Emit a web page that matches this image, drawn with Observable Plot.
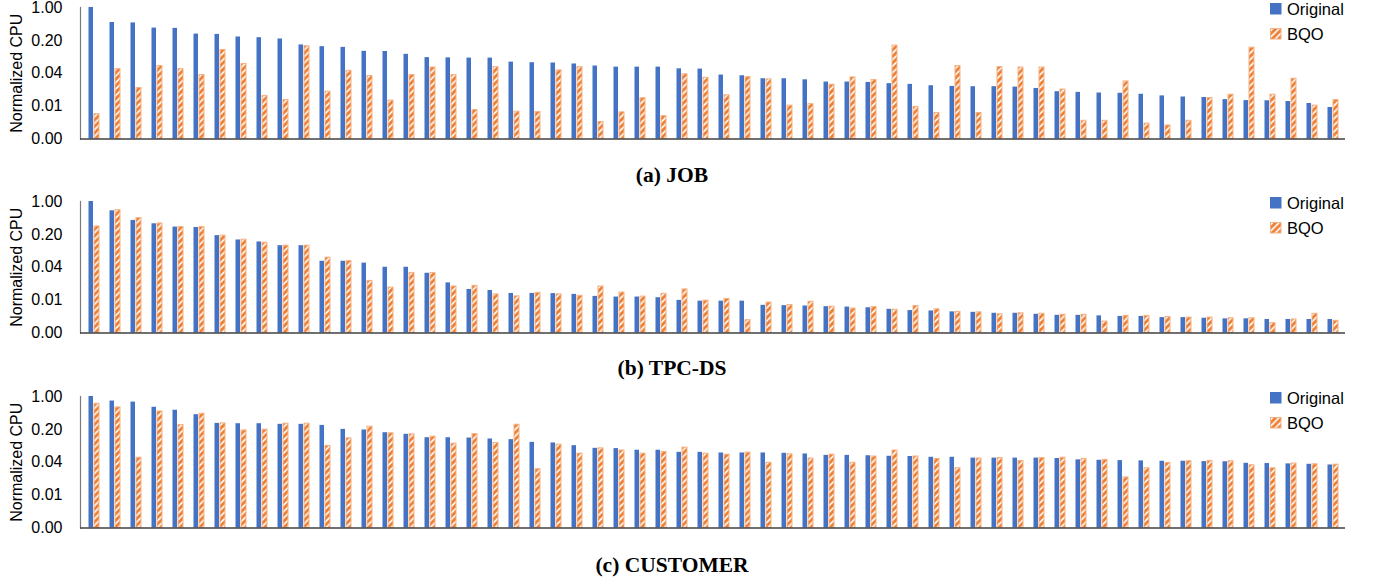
<!DOCTYPE html>
<html>
<head>
<meta charset="utf-8">
<script src="https://cdn.jsdelivr.net/npm/d3@7"></script>
<script src="https://cdn.jsdelivr.net/npm/@observablehq/plot@0.6"></script>
<style>
  body { margin: 0; background: #fff; }
  #root { position: relative; width: 1374px; height: 584px; overflow: hidden; font-family: 'Liberation Sans', Arial, sans-serif; }
  .panel { position: absolute; left: 0; }
  .caption { position: absolute; left: 522px; width: 300px; text-align: center; font-family: 'Liberation Serif', 'Times New Roman', serif; font-weight: bold; font-size: 21.5px; line-height: 21px; color: #000; }
  .legend { position: absolute; left: 1270px; font-size: 16.5px; color: #000; }
  .legend .item { position: absolute; left: 0; white-space: nowrap; height: 14px; }
  .legend svg { position: absolute; left: 0; top: 0; }
  .legend span { position: absolute; left: 17px; top: -3px; line-height: 18px; }
</style>
</head>
<body>
<svg width="0" height="0" style="position:absolute">
  <defs>
    <pattern id="hatch" patternUnits="userSpaceOnUse" width="6.5" height="6.5">
      <rect width="6.5" height="6.5" fill="#fff"/>
      <path d="M-1.625,1.625 L1.625,-1.625 M0,6.5 L6.5,0 M4.875,8.125 L8.125,4.875" stroke="#ED7D31" stroke-width="2.8"/>
    </pattern>
  </defs>
</svg>
<div id="root"></div>
<script>
// ---- data ----
const seriesNames = ["Original", "BQO"];
const panelCaptions = ["(a) JOB", "(b) TPC-DS", "(c) CUSTOMER"];
const yTicks = [0.0016, 0.008, 0.04, 0.2, 1];

const jobOriginal = [1.0, 0.48, 0.47, 0.365, 0.36, 0.272, 0.268, 0.236, 0.228, 0.214,
  0.16, 0.147, 0.142, 0.117, 0.116, 0.101, 0.086, 0.085, 0.084, 0.084,
  0.069, 0.067, 0.066, 0.063, 0.057, 0.054, 0.054, 0.054, 0.0497, 0.049,
  0.0366, 0.0354, 0.0306, 0.0306, 0.029, 0.026, 0.026, 0.0255, 0.024, 0.0232,
  0.0217, 0.021, 0.0207, 0.0207, 0.0203, 0.019, 0.0162, 0.0157, 0.0152, 0.015,
  0.0143, 0.0132, 0.0125, 0.0122, 0.011, 0.0105, 0.0104, 0.010, 0.0091, 0.0075];
const jobBQO = [0.0054, 0.049, 0.0194, 0.057, 0.049, 0.0366, 0.125, 0.063, 0.0132, 0.0108,
  0.15, 0.0162, 0.045, 0.0348, 0.0105, 0.0366, 0.053, 0.0366, 0.0066, 0.054,
  0.0061, 0.006, 0.046, 0.054, 0.0037, 0.0059, 0.0118, 0.0049, 0.038, 0.032,
  0.0136, 0.0331, 0.0296, 0.0082, 0.0088, 0.0228, 0.0326, 0.0287, 0.155, 0.0077,
  0.0057, 0.057, 0.0057, 0.054, 0.053, 0.053, 0.018, 0.0039, 0.0039, 0.0268,
  0.0034, 0.0031, 0.0039, 0.0119, 0.014, 0.14, 0.014, 0.0306, 0.0082, 0.0108];

const tpcdsOriginal = [1.0, 0.634, 0.396, 0.336, 0.286, 0.28, 0.188, 0.152, 0.138, 0.115,
  0.115, 0.0536, 0.0536, 0.049, 0.04, 0.04, 0.0298, 0.0186, 0.0135, 0.0128,
  0.0111, 0.0111, 0.011, 0.0106, 0.0096, 0.0093, 0.0093, 0.009, 0.0079, 0.0076,
  0.0076, 0.0076, 0.0062, 0.0061, 0.006, 0.0058, 0.0057, 0.0055, 0.0051, 0.0048,
  0.0047, 0.0045, 0.0044, 0.0042, 0.0042, 0.004, 0.0038, 0.0038, 0.0037, 0.0036,
  0.0036, 0.0034, 0.0034, 0.0033, 0.0032, 0.0032, 0.0031, 0.0031, 0.0031, 0.0031];
const tpcdsBQO = [0.295, 0.655, 0.443, 0.34, 0.286, 0.285, 0.188, 0.154, 0.133, 0.115,
  0.115, 0.064, 0.054, 0.0205, 0.0148, 0.0303, 0.0303, 0.0156, 0.0161, 0.0106,
  0.0096, 0.0114, 0.0106, 0.0099, 0.0156, 0.0116, 0.0095, 0.0109, 0.0135, 0.0078,
  0.0085, 0.003, 0.0071, 0.0063, 0.0074, 0.0058, 0.0053, 0.0057, 0.005, 0.006,
  0.0051, 0.0045, 0.0044, 0.004, 0.0042, 0.0041, 0.0039, 0.0039, 0.0028, 0.0037,
  0.0037, 0.0035, 0.0034, 0.0034, 0.0033, 0.0033, 0.0026, 0.0031, 0.0041, 0.0029];

const customerOriginal = [1.0, 0.80, 0.76, 0.59, 0.51, 0.41, 0.268, 0.264, 0.264, 0.256,
  0.256, 0.243, 0.2, 0.194, 0.17, 0.157, 0.133, 0.133, 0.131, 0.125,
  0.121, 0.106, 0.103, 0.09, 0.079, 0.078, 0.072, 0.072, 0.065, 0.065,
  0.063, 0.063, 0.063, 0.062, 0.06, 0.056, 0.056, 0.055, 0.0536, 0.053,
  0.051, 0.051, 0.049, 0.049, 0.049, 0.049, 0.048, 0.045, 0.044, 0.0434,
  0.0427, 0.042, 0.042, 0.0413, 0.041, 0.038, 0.0375, 0.0369, 0.0362, 0.035];
const customerBQO = [0.70, 0.585, 0.050, 0.48, 0.247, 0.43, 0.268, 0.19, 0.197, 0.264,
  0.264, 0.089, 0.129, 0.228, 0.165, 0.157, 0.14, 0.0995, 0.159, 0.103,
  0.251, 0.0284, 0.0946, 0.061, 0.079, 0.071, 0.061, 0.066, 0.082, 0.061,
  0.058, 0.064, 0.039, 0.059, 0.048, 0.058, 0.039, 0.053, 0.071, 0.053,
  0.047, 0.0298, 0.048, 0.049, 0.0427, 0.049, 0.050, 0.047, 0.045, 0.019,
  0.0298, 0.0387, 0.042, 0.0427, 0.042, 0.0345, 0.0298, 0.0375, 0.0362, 0.0356];

// ---- drawing ----
const blue = "#4472C4";
const orangeEdge = "#F4B183";
const panelsData = [[jobOriginal, jobBQO], [tpcdsOriginal, tpcdsBQO], [customerOriginal, customerBQO]];
const panelTops = [0, 194, 389];
const captionTops = [165, 358, 555];
const root = document.getElementById("root");

panelsData.forEach(([orig, bqo], p) => {
  const rows = orig.map((v, i) => ({q: i + 1, orig: v, bqo: bqo[i]}));
  const chart = Plot.plot({
    width: 1374,
    height: 150,
    marginLeft: 80,
    marginRight: 29,
    marginTop: 7,
    marginBottom: 11.5,
    style: {fontSize: "16px", fontFamily: "'Liberation Sans', Arial, sans-serif", background: "transparent", color: "#000", overflow: "visible"},
    x: {type: "band", domain: rows.map(d => d.q), padding: 0, axis: null},
    y: {
      type: "log",
      base: 5,
      domain: [yTicks[0], yTicks[yTicks.length - 1]],
      ticks: yTicks,
      tickFormat: d3.format(".2f"),
      tickSize: 0,
      tickPadding: 18,
      label: "Normalized CPU",
      labelAnchor: "center",
      labelArrow: "none",
      labelOffset: 70
    },
    marks: [
      Plot.frame({anchor: "left", stroke: "#7a7a7a", strokeWidth: 1.2}),
      Plot.barY(rows, {x: "q", y1: yTicks[0], y2: "orig", fill: blue, insetLeft: 5.5, insetRight: 11}),
      Plot.barY(rows, {x: "q", y1: yTicks[0], y2: "bqo", fill: "url(#hatch)", stroke: orangeEdge, strokeWidth: 1, insetLeft: 11, insetRight: 5}),
      Plot.ruleY([yTicks[0]], {stroke: "#404040", strokeWidth: 1.3})
    ]
  });
  chart.classList.add("panel");
  chart.style.top = panelTops[p] + "px";
  root.appendChild(chart);

  const cap = document.createElement("div");
  cap.className = "caption";
  cap.style.top = captionTops[p] + "px";
  cap.textContent = panelCaptions[p];
  root.appendChild(cap);

  const leg = document.createElement("div");
  leg.className = "legend";
  leg.style.top = (panelTops[p] + 2.7) + "px";
  leg.innerHTML =
    `<div class="item" style="top:0px"><svg width="12" height="12"><rect x="0" y="0" width="11.5" height="11.5" fill="${blue}"/></svg><span>${seriesNames[0]}</span></div>` +
    `<div class="item" style="top:25.5px"><svg width="12" height="12"><rect x="0.5" y="0.5" width="10.5" height="10.5" fill="url(#hatch)" stroke="${orangeEdge}"/></svg><span>${seriesNames[1]}</span></div>`;
  root.appendChild(leg);
});
</script>
</body>
</html>
